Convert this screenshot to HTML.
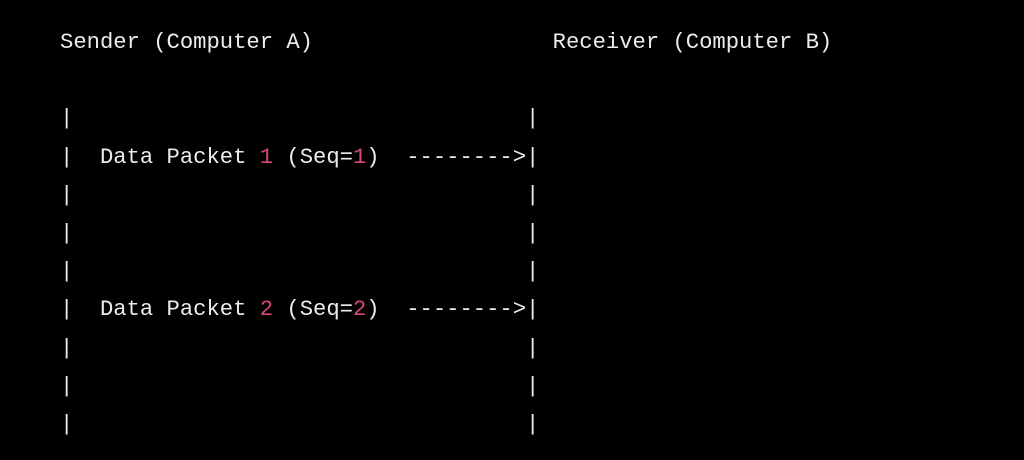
<!DOCTYPE html>
<html><head><style>
html,body{margin:0;padding:0;background:#000;width:1024px;height:460px;overflow:hidden}
pre{position:absolute;left:60px;top:24px;margin:0;font-family:"Liberation Mono",monospace;font-size:22.2px;line-height:38.2px;color:#ececec}
.n{color:#d9467f}
</style></head><body>
<pre>Sender (Computer A)                  Receiver (Computer B)

|                                  |
|  Data Packet <span class="n">1</span> (Seq=<span class="n">1</span>)  --------&gt;|
|                                  |
|                                  |
|                                  |
|  Data Packet <span class="n">2</span> (Seq=<span class="n">2</span>)  --------&gt;|
|                                  |
|                                  |
|                                  |</pre>
</body></html>
